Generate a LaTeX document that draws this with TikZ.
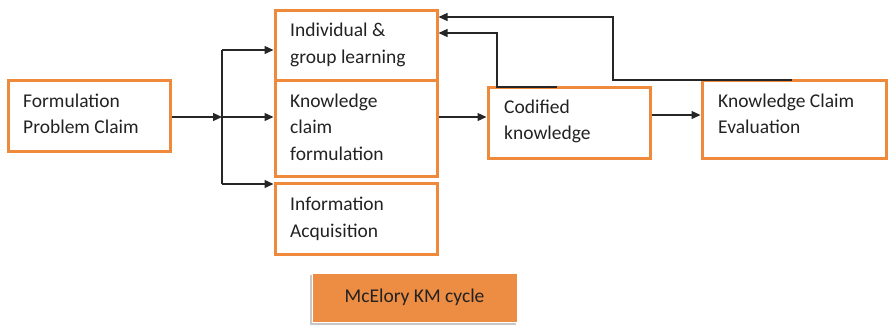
\documentclass[tikz,border=0pt]{standalone}
\usepackage{fontspec}
\setmainfont{Carlito}
\usetikzlibrary{arrows.meta}
\definecolor{kmorange}{HTML}{EF8A3D}
\definecolor{kmfill}{HTML}{ED8D43}
\definecolor{kmtext}{HTML}{222222}
\tikzset{
  box/.style={draw=kmorange, line width=3pt, minimum width=#1, inner sep=0pt},
  txt/.style={anchor=base west, inner sep=0pt, text=kmtext, font=\fontsize{19.5pt}{26pt}\selectfont},
  link/.style={line width=1.3pt, draw=black!85},
  arr/.style={link, -{Triangle[length=9pt,width=8pt]}}
}
\begin{document}
\begin{tikzpicture}[x=1pt,y=-1pt]
\useasboundingbox (0,0) rectangle (888,330);

% boxes
\node[box=162pt, minimum height=71pt] (form) at (89,115.5) {};
\node[box=162pt, minimum height=70pt] (ind)  at (356,45) {};
\node[box=162pt, minimum height=96pt] (kcf)  at (356,128) {};
\node[box=162pt, minimum height=71pt] (info) at (356,218.5) {};
\node[box=162pt, minimum height=71pt] (cod)  at (569,122.5) {};
\node[box=184pt, minimum height=78pt] (kce)  at (794,119) {};

% box texts
\node[txt] (form1) at (23,107) {Formulation};
\node[txt] (form2) at (23,133) {Problem Claim};
\node[txt] (ind1) at (290,36) {Individual \&};
\node[txt] (ind2) at (290,63) {group learning};
\node[txt] (kcf1) at (290,107) {Knowledge};
\node[txt] (kcf2) at (290,133) {claim};
\node[txt] (kcf3) at (290,160) {formulation};
\node[txt] (info1) at (290,210) {Information};
\node[txt] (info2) at (290,237) {Acquisition};
\node[txt] (cod1) at (504,113) {Codified};
\node[txt] (cod2) at (504,139) {knowledge};
\node[txt] (kce1) at (718,107) {Knowledge Claim};
\node[txt] (kce2) at (718,133) {Evaluation};

% caption box with soft shadow
\fill[black!22] (310,275) rectangle (516,325);
\node[fill=kmfill, draw=white, line width=0.6pt, minimum width=205pt, minimum height=49pt, inner sep=0pt,
      text=kmtext, font=\fontsize{19.5pt}{22pt}\selectfont] (mc) at (414.5,297.5) {McElory KM cycle};

% fan-out from the problem claim
\coordinate (split) at (222,117);
\coordinate (up) at (222,50);
\coordinate (down) at (222,184);
\draw[arr] (form.east |- split) -- (split);
\draw[link] (up) -- (down);
\draw[arr] (split) -- (split -| kcf.west);
\draw[arr] (up) -- (up -| ind.west);
\draw[arr] (down) -- (down -| info.west);

% main flow
\draw[arr] (kcf.east |- split) -- (split -| cod.west);
\coordinate (flow2) at (650,115);
\draw[arr] (cod.east |- flow2) -- (flow2 -| kce.west);

% feedback loops to learning
\coordinate (fbA) at (557,87);
\coordinate (fbAc) at (497,87);
\coordinate (fbAt) at (497,33);
\draw[arr] (fbA) -- (fbAc) -- (fbAt) -- (fbAt -| ind.east);
\coordinate (fbB) at (792,80);
\coordinate (fbBc) at (613,80);
\coordinate (fbBt) at (613,17);
\draw[arr] (fbB) -- (fbBc) -- (fbBt) -- (fbBt -| ind.east);
\end{tikzpicture}
\end{document}
